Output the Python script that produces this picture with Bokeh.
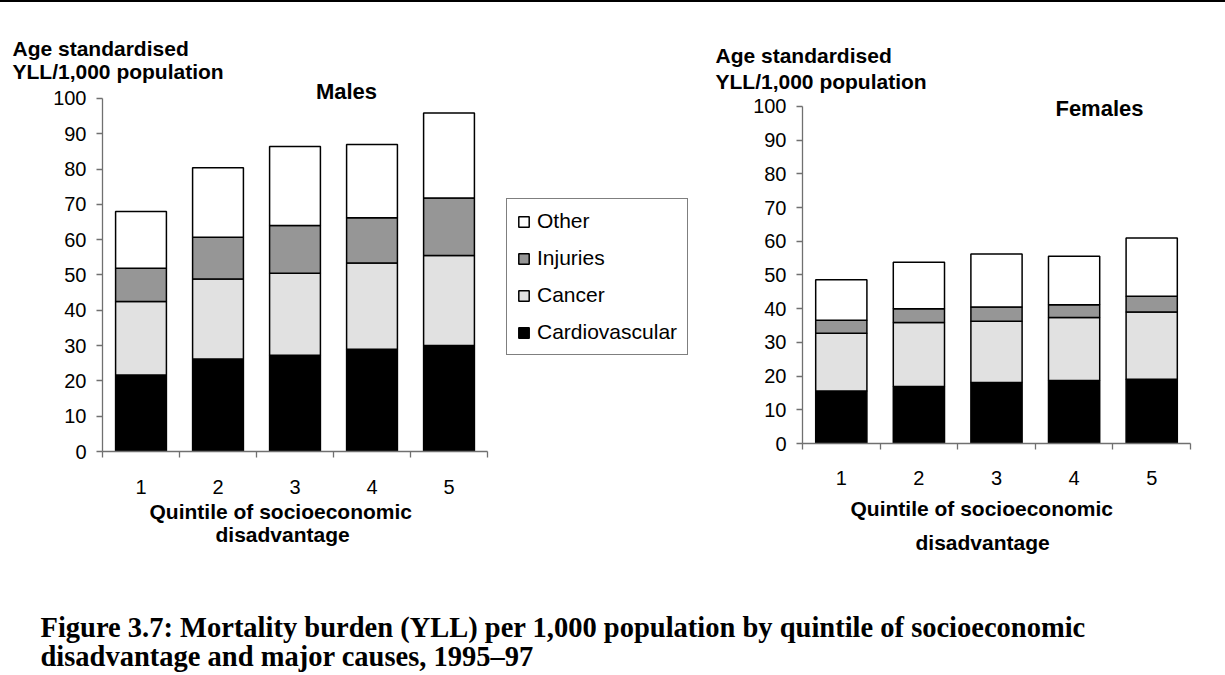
from bokeh.plotting import figure
from bokeh.models import (ColumnDataSource, Range1d, FixedTicker, Legend, LegendItem, Label, Title, Div)
from bokeh.layouts import column, row
from bokeh.embed import file_html
from bokeh.resources import INLINE

# ---------------- data ----------------
quintiles = ["1", "2", "3", "4", "5"]
causes = ["Cardiovascular", "Cancer", "Injuries", "Other"]

males_cardiovascular = [21.7, 26.2, 27.3, 29.0, 30.0]
males_cancer = [20.8, 22.7, 23.2, 24.4, 25.5]
males_injuries = [9.4, 11.8, 13.5, 12.8, 16.3]
males_other = [16.1, 19.7, 22.4, 20.8, 24.1]

females_cardiovascular = [15.6, 16.9, 18.1, 18.7, 19.1]
females_cancer = [17.1, 19.0, 18.2, 18.7, 19.9]
females_injuries = [3.9, 4.1, 4.2, 3.8, 4.7]
females_other = [12.0, 13.8, 15.7, 14.4, 17.3]

y_ticks = [0, 10, 20, 30, 40, 50, 60, 70, 80, 90, 100]

ylabel_text = "Age standardised\nYLL/1,000 population"
xlabel_lines = ["Quintile of socioeconomic", "disadvantage"]
caption_lines = ["Figure 3.7: Mortality burden (YLL) per 1,000 population by quintile of socioeconomic",
                 "disadvantage and major causes, 1995\u201397"]

# ---------------- styles ----------------
FILLS = ["#000000", "#e1e1e1", "#969696", "#ffffff"]
SANS = "Liberation Sans"
SERIF = "Liberation Serif"
AXIS_COLOR = "#707070"
ROW_H = 578


def make_chart(title, vals, width, bl, br, bt, bb, x_end, y_end, title_xy,
               ylab_offset, ylab_standoff, ylab_lh,
               xlab_offsets, xlab_standoffs, tick_standoff, legend_loc=None):
    p = figure(width=width, height=ROW_H, output_backend="svg", toolbar_location=None,
               x_range=Range1d(0.5, x_end), y_range=Range1d(0, y_end),
               min_border_left=bl, min_border_right=br, min_border_top=bt, min_border_bottom=bb)
    p.outline_line_color = None
    p.grid.visible = False

    data = dict(x=[1, 2, 3, 4, 5])
    for c, v in zip(causes, vals):
        data[c] = v
    src = ColumnDataSource(data)
    rs = p.vbar_stack(causes, x="x", width=0.66, source=src, fill_color=FILLS,
                      line_color="black", line_width=1.5)

    # y axis
    yax = p.yaxis[0]
    yax.ticker = FixedTicker(ticks=y_ticks)
    yax.bounds = (0, 100)
    yax.axis_line_color = AXIS_COLOR
    yax.axis_line_width = 1.3
    yax.major_tick_line_color = AXIS_COLOR
    yax.major_tick_line_width = 1.3
    yax.major_tick_out = 6
    yax.major_tick_in = 0
    yax.minor_tick_line_color = None
    yax.major_label_standoff = 10
    yax.major_label_text_font = SANS
    yax.major_label_text_font_size = "20px"
    yax.major_label_text_color = "black"

    # x axis: labels at centres, short ticks at category boundaries
    xax = p.xaxis[0]
    xax.ticker = FixedTicker(ticks=[1, 2, 3, 4, 5], minor_ticks=[0.5, 1.5, 2.5, 3.5, 4.5, 5.5])
    xax.bounds = (0.5, 5.5)
    xax.major_label_overrides = {i + 1: q for i, q in enumerate(quintiles)}
    xax.axis_line_color = AXIS_COLOR
    xax.axis_line_width = 1.3
    xax.major_tick_line_color = None
    xax.major_tick_out = 0
    xax.major_tick_in = 0
    xax.minor_tick_line_color = AXIS_COLOR
    xax.minor_tick_line_width = 1.3
    xax.minor_tick_out = 6
    xax.minor_tick_in = 0
    xax.major_label_standoff = tick_standoff
    xax.major_label_text_font = SANS
    xax.major_label_text_font_size = "20px"
    xax.major_label_text_color = "black"

    # y-axis title at top-left (the figure's own title slot)
    p.title.text = ylabel_text
    p.title.align = "left"
    p.title.offset = ylab_offset
    p.title.standoff = ylab_standoff
    p.title.text_font = SANS
    p.title.text_font_size = "21px"
    p.title.text_font_style = "bold"
    p.title.text_line_height = ylab_lh
    p.title.text_color = "black"

    # x-axis title: two lines below the axis
    for txt, off, so in zip(xlabel_lines, xlab_offsets, xlab_standoffs):
        p.add_layout(Title(text=txt, align="left", offset=off, standoff=so, vertical_align="top",
                           text_font=SANS, text_font_size="21px", text_font_style="bold",
                           text_color="black"), "below")

    # chart title inside the frame
    p.add_layout(Label(x=title_xy[0], y=title_xy[1], text=title, text_font=SANS,
                       text_font_size="22px", text_font_style="bold", text_align="center",
                       text_baseline="middle", text_color="black"))

    if legend_loc is not None:
        items = [LegendItem(label=c, renderers=[r]) for c, r in zip(causes, rs)][::-1]
        leg = Legend(items=items, location=legend_loc, orientation="vertical")
        leg.label_text_font = SANS
        leg.label_text_font_size = "21px"
        leg.label_text_color = "black"
        leg.glyph_width = 13
        leg.glyph_height = 13
        leg.label_standoff = 7
        leg.label_height = 22
        leg.padding = 10
        leg.spacing = 13
        leg.margin = 0
        leg.border_line_color = "black"
        leg.border_line_width = 1
        leg.background_fill_color = "white"
        leg.background_fill_alpha = 1.0
        p.add_layout(leg)
    return p


# page geometry: row starts at y=2 (below the 2px rule)
left = make_chart("Males",
                  [males_cardiovascular, males_cancer, males_injuries, males_other],
                  width=700, bl=102, br=0, bt=80, bb=129, x_end=8.266, y_end=104.53,
                  title_xy=(3.669, 101.98), ylab_offset=-90, ylab_standoff=-2, ylab_lh=1.04,
                  xlab_offsets=(47, 113), xlab_standoffs=(7, -12), tick_standoff=22,
                  legend_loc=(404, 96))

right = make_chart("Females",
                   [females_cardiovascular, females_cancer, females_injuries, females_other],
                   width=520, bl=102, br=30, bt=92, bb=137, x_end=5.5, y_end=103.56,
                   title_xy=(4.327, 99.41), ylab_offset=-87, ylab_standoff=3, ylab_lh=1.12,
                   xlab_offsets=(48, 113), xlab_standoffs=(19, -1), tick_standoff=21)

# thin rule at the top of the page
topline = Div(text="", width=1225, height=2, margin=0,
              styles={"background-color": "black", "padding": "0", "line-height": "0", "font-size": "0"})

# caption (coordinates = page pixels)
cap = figure(width=1220, height=94, output_backend="svg", toolbar_location=None,
             min_border=0, x_range=Range1d(0, 1220), y_range=Range1d(674, 580))
cap.axis.visible = False
cap.grid.visible = False
cap.outline_line_color = None
for txt, yy in zip(caption_lines, [627, 656]):
    cap.add_layout(Label(x=40, y=yy, text=txt, text_font=SERIF, text_font_size="28.5px",
                         text_font_style="bold", text_baseline="middle", text_color="black"))

layout = column(topline, row(left, column(right)), cap)

open("out.html", "w").write(file_html(layout, INLINE))
